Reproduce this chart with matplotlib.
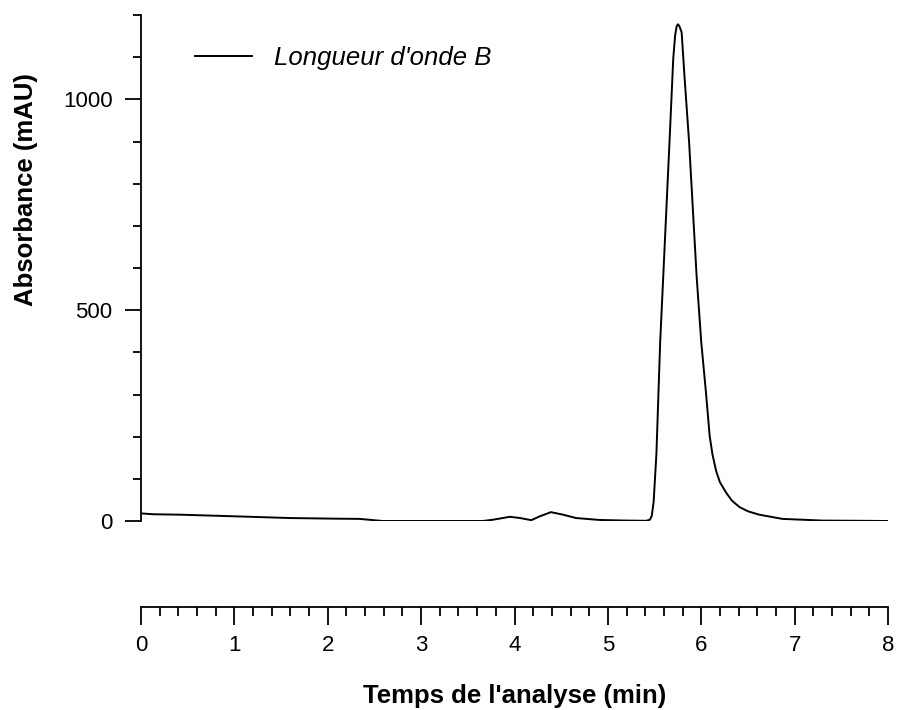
import numpy as np
import matplotlib.pyplot as plt
from matplotlib.ticker import MultipleLocator

plt.rcParams['font.family'] = ['Liberation Sans', 'DejaVu Sans']

################################################################################
# Data

temps = [0.00, 0.13, 0.42, 1.02, 1.60, 2.09, 2.34, 2.59, 3.00, 3.31, 3.66,
         3.77, 3.95, 4.06, 4.18, 4.27, 4.39, 4.52, 4.66, 4.91, 5.20, 5.41,
         5.45, 5.47, 5.49, 5.52, 5.56, 5.61, 5.66, 5.70, 5.72, 5.735, 5.75,
         5.765, 5.79, 5.82, 5.87, 5.91, 5.95, 6.00, 6.05, 6.09, 6.12, 6.16,
         6.20, 6.27, 6.33, 6.41, 6.50, 6.62, 6.87, 7.30, 7.70, 8.00]
absorbance = [18, 16, 15, 11, 7, 5.5, 5, 0, 0, 0, 0,
              3, 10, 7, 2, 11, 21, 15, 7, 2.5, 1, 0.5,
              3, 12, 45, 160, 424, 661, 899, 1096, 1151, 1172, 1178,
              1174, 1159, 1056, 898, 740, 582, 424, 306, 202, 158, 118,
              92, 66, 48, 33, 23, 15, 5, 1, 0.5, 0]

serie_label = "Longueur d'onde B"
xlabel = "Temps de l'analyse (min)"
ylabel = "Absorbance (mAU)"
xticks = np.arange(0, 9, 1)
yticks = [0, 500, 1000]

################################################################################
# Plot

fig = plt.figure(figsize=(8.97, 7.10), dpi=100)
ax = fig.add_axes([141 / 897, 189 / 710, 747 / 897, 506 / 710])

ax.plot(temps, absorbance, color='black', lw=1.4, label=serie_label,
        solid_joinstyle='round')

ax.set_xlim(0, 8)
ax.set_ylim(0, 1200)

# Detached time axis below the trace
ax.spines['top'].set_visible(False)
ax.spines['right'].set_visible(False)
ax.spines['bottom'].set_position(('outward', 62))
for s in ['left', 'bottom']:
    ax.spines[s].set_linewidth(1.3)

ax.set_xticks(xticks)
ax.set_yticks(yticks)
ax.xaxis.set_minor_locator(MultipleLocator(0.2))
ax.yaxis.set_minor_locator(MultipleLocator(100))
ax.tick_params('x', which='major', direction='out', length=13, width=1.3,
               pad=7, labelsize=16)
ax.tick_params('x', which='minor', direction='out', length=6.5, width=1.3)
ax.tick_params('y', which='major', direction='out', length=11.5, width=1.3,
               pad=9, labelsize=16)
ax.tick_params('y', which='minor', direction='out', length=5.8, width=1.3)

fig.text(26 / 897, (710 - 190) / 710, ylabel, rotation=90, ha='center',
         va='center', fontsize=18.5, fontweight='bold')
fig.text(514.5 / 897, (710 - 696) / 710, xlabel, ha='center', va='center',
         fontsize=18.5, fontweight='bold')

ax.legend(loc='center left', bbox_to_anchor=((195 - 141) / 747, (521 - 58) / 506),
          frameon=False, prop={'style': 'italic', 'size': 18.5},
          handlelength=2.2, handletextpad=0.86, borderpad=0, borderaxespad=0)

fig.savefig('out.png', dpi=100)
